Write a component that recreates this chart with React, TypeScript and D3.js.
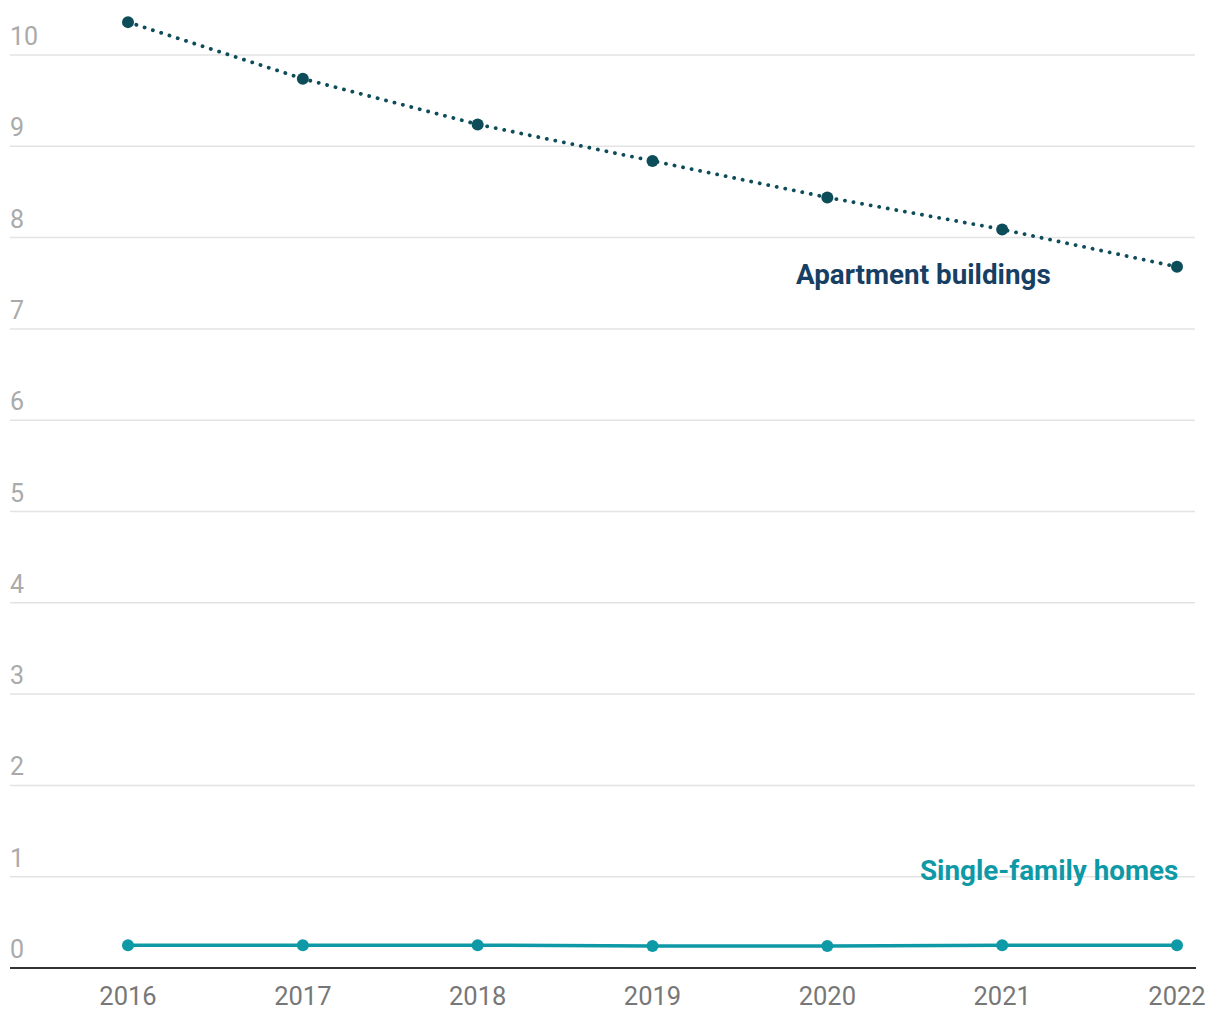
import React from "react";
import * as d3 from "d3";

const years = ["2016", "2017", "2018", "2019", "2020", "2021", "2022"];
const apartments = [10.36, 9.74, 9.24, 8.84, 8.44, 8.09, 7.68];
const singleFamily = [0.25, 0.25, 0.25, 0.24, 0.24, 0.25, 0.25];
const yTicks = [0, 1, 2, 3, 4, 5, 6, 7, 8, 9, 10];

const width = 1220;
const height = 1020;
const margin = { top: 10, right: 25, bottom: 52, left: 10 };

const aptColor = "#0d4d5a";
const aptLabel = "#173f63";
const sfColor = "#0e99a6";

const App = () => {
  const x = d3
    .scalePoint<string>()
    .domain(years)
    .range([128, 1177]);

  const y = d3
    .scaleLinear()
    .domain([0, 10])
    .range([height - margin.bottom, 55]);

  const line = d3
    .line<number>()
    .x((d, i) => x(years[i]) as number)
    .y((d) => y(d));

  return (
    <svg
      width={width}
      height={height}
      style={{ position: "absolute", left: 0, top: 0, fontFamily: "Roboto" }}
    >
      {yTicks.map((t) => (
        <g key={t}>
          {t > 0 && (
            <line
              x1={margin.left}
              x2={width - margin.right}
              y1={y(t)}
              y2={y(t)}
              stroke="#e3e3e3"
              strokeWidth={1.5}
            />
          )}
          <text x={margin.left} y={y(t) - 10} fontSize={25} fill="#aaaaaa">
            {t}
          </text>
        </g>
      ))}
      <line
        x1={margin.left}
        x2={width - margin.right + 1}
        y1={y(0)}
        y2={y(0)}
        stroke="#333"
        strokeWidth={2}
      />
      {years.map((yr) => (
        <text
          key={yr}
          x={x(yr)}
          y={1005}
          fontSize={25.5}
          fill="#777"
          textAnchor="middle"
        >
          {yr}
        </text>
      ))}

      <path
        d={line(apartments) || ""}
        fill="none"
        stroke={aptColor}
        strokeWidth={3.8}
        strokeDasharray="0.1 8.6"
        strokeLinecap="round"
      />
      {apartments.map((v, i) => (
        <circle key={i} cx={x(years[i])} cy={y(v)} r={6} fill={aptColor} />
      ))}

      <path
        d={line(singleFamily) || ""}
        fill="none"
        stroke={sfColor}
        strokeWidth={3.5}
      />
      {singleFamily.map((v, i) => (
        <circle key={i} cx={x(years[i])} cy={y(v)} r={6} fill={sfColor} />
      ))}

      <text x={796} y={284} fontSize={27.8} fontWeight="bold" fill={aptLabel}>
        Apartment buildings
      </text>
      <text x={920} y={880} fontSize={27.8} fontWeight="bold" fill={sfColor}>
        Single-family homes
      </text>
    </svg>
  );
};

export default App;
